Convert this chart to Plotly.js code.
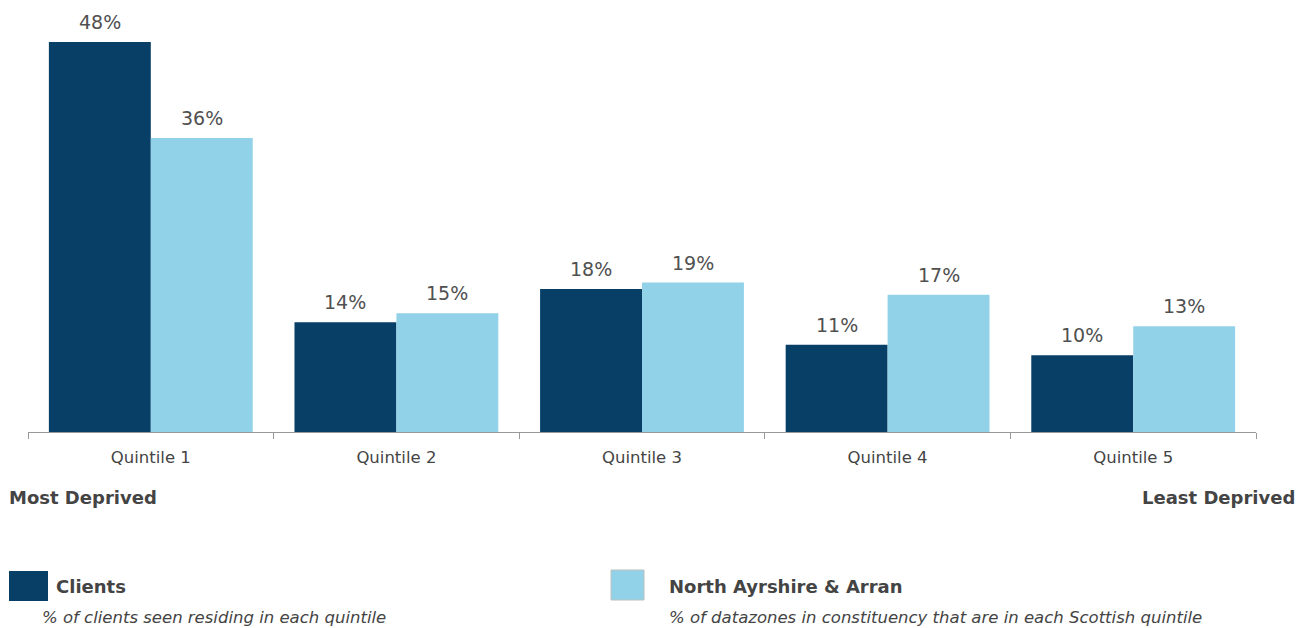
<!DOCTYPE html>
<html>
<head>
<meta charset="utf-8">
<script src="https://cdn.plot.ly/plotly-3.0.1.min.js"></script>
<style>html,body{margin:0;padding:0;background:#fff;}#chart{width:1310px;height:628px;}</style>
</head>
<body>
<div id="chart"></div>
<script>
const categories = ["Quintile 1", "Quintile 2", "Quintile 3", "Quintile 4", "Quintile 5"];
const clients = [48.3, 13.6, 17.7, 10.8, 9.5];
const constituency = [36.4, 14.7, 18.5, 17.0, 13.1];
const clientLabels = ["48%", "14%", "18%", "11%", "10%"];
const constituencyLabels = ["36%", "15%", "19%", "17%", "13%"];
const seriesNames = ["Clients", "North Ayrshire & Arran"];
const seriesNotes = ["% of clients seen residing in each quintile", "% of datazones in constituency that are in each Scottish quintile"];
const axisEnds = ["Most Deprived", "Least Deprived"];

const darkBlue = "#073f66";
const lightBlue = "#92d2e9";
const textGrey = "#444444";
const FONT = "DejaVu Sans, Verdana, sans-serif";

const W = 1310, H = 628;
const M = {l: 28, r: 54, t: 10, b: 196};
const PW = W - M.l - M.r, PH = H - M.t - M.b;
const fx = px => (px - M.l) / PW;
const fy = py => (H - M.b - py) / PH;

const bargap = 0.17;
const barPx = PW / categories.length * (1 - bargap) / 2;

const traces = [
  {type: "bar", name: seriesNames[0], x: categories, y: clients, marker: {color: darkBlue}, hoverinfo: "skip"},
  {type: "bar", name: seriesNames[1], x: categories, y: constituency, marker: {color: lightBlue}, hoverinfo: "skip"}
];

const annotations = [];
categories.forEach((c, i) => {
  annotations.push({x: c, y: clients[i], xref: "x", yref: "y", text: clientLabels[i], showarrow: false,
    xshift: -barPx / 2, yanchor: "bottom", yshift: 7, font: {family: FONT, size: 19, color: "#505050"}});
  annotations.push({x: c, y: constituency[i], xref: "x", yref: "y", text: constituencyLabels[i], showarrow: false,
    xshift: barPx / 2, yanchor: "bottom", yshift: 7, font: {family: FONT, size: 19, color: "#505050"}});
});
annotations.push({xref: "paper", yref: "paper", x: fx(7), y: fy(497), xanchor: "left", yanchor: "middle",
  text: "<b>" + axisEnds[0] + "</b>", showarrow: false, font: {family: FONT, size: 18, color: textGrey}});
annotations.push({xref: "paper", yref: "paper", x: fx(1297), y: fy(497), xanchor: "right", yanchor: "middle",
  text: "<b>" + axisEnds[1] + "</b>", showarrow: false, font: {family: FONT, size: 18, color: textGrey}});
annotations.push({xref: "paper", yref: "paper", x: fx(54), y: fy(586), xanchor: "left", yanchor: "middle",
  text: "<b>" + seriesNames[0] + "</b>", showarrow: false, font: {family: FONT, size: 18, color: textGrey}});
annotations.push({xref: "paper", yref: "paper", x: fx(40), y: fy(617), xanchor: "left", yanchor: "middle",
  text: "<i>" + seriesNotes[0] + "</i>", showarrow: false, font: {family: FONT, size: 16.5, color: textGrey}});
annotations.push({xref: "paper", yref: "paper", x: fx(667), y: fy(586), xanchor: "left", yanchor: "middle",
  text: "<b>" + seriesNames[1] + "</b>", showarrow: false, font: {family: FONT, size: 18, color: textGrey}});
annotations.push({xref: "paper", yref: "paper", x: fx(667), y: fy(617), xanchor: "left", yanchor: "middle",
  text: "<i>" + seriesNotes[1] + "</i>", showarrow: false, font: {family: FONT, size: 16.5, color: textGrey}});

const shapes = [
  {type: "rect", xref: "paper", yref: "paper", x0: fx(9), x1: fx(48), y0: fy(601), y1: fy(571),
    fillcolor: darkBlue, line: {width: 0}},
  {type: "rect", xref: "paper", yref: "paper", x0: fx(611), x1: fx(644), y0: fy(600), y1: fy(570),
    fillcolor: lightBlue, line: {width: 1, color: "#bfbfbf"}}
];

const layout = {
  width: W, height: H,
  margin: M,
  paper_bgcolor: "#ffffff", plot_bgcolor: "#ffffff",
  barmode: "group", bargap: bargap, bargroupgap: 0,
  showlegend: false,
  font: {family: FONT, color: textGrey},
  xaxis: {
    type: "category", showline: true, linecolor: "#999999", linewidth: 1,
    ticks: "outside", tickson: "boundaries", ticklen: 6, tickcolor: "#999999",
    ticklabelstandoff: 10,
    tickfont: {family: FONT, size: 16.5, color: textGrey}, showgrid: false, zeroline: false, fixedrange: true
  },
  yaxis: {range: [0, PH / (390 / clients[0])], visible: false, showgrid: false, zeroline: false, fixedrange: true},
  annotations: annotations,
  shapes: shapes
};

Plotly.newPlot("chart", traces, layout, {displayModeBar: false, staticPlot: true});
</script>
</body>
</html>
